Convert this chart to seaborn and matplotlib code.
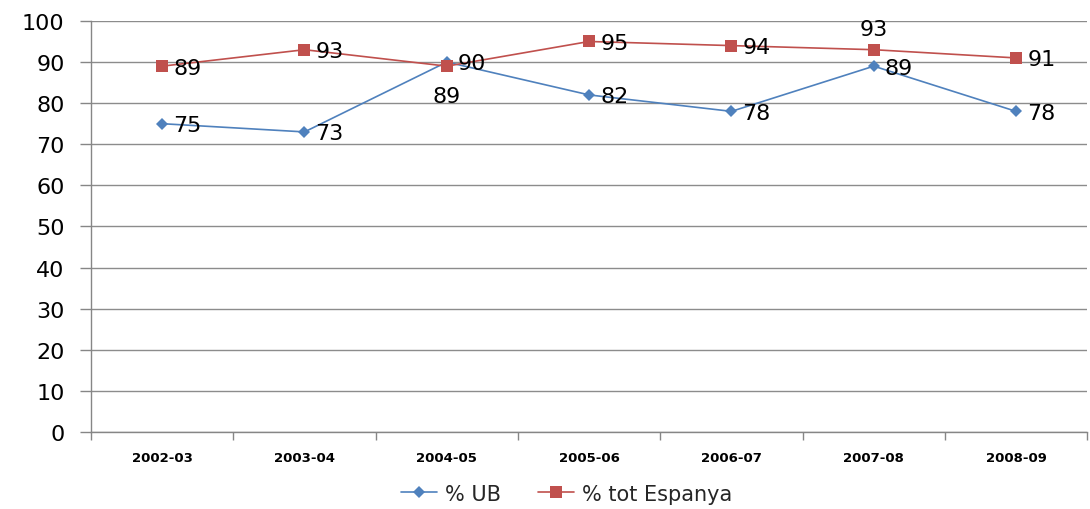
import numpy as np
import matplotlib
matplotlib.use("Agg")
import matplotlib.pyplot as plt
from matplotlib.lines import Line2D
import seaborn as sns
import pandas as pd

years = ['2002-03', '2003-04', '2004-05', '2005-06', '2006-07', '2007-08', '2008-09']
ub = [75, 73, 90, 82, 78, 89, 78]
espanya = [89, 93, 89, 95, 94, 93, 91]
series_names = ['% UB', '% tot Espanya']
# where each data label sits relative to its point
ub_label_pos = ['right'] * 7
esp_label_pos = ['right', 'right', 'below', 'right', 'right', 'above', 'right']

sns.set_style("white")
plt.rcParams['font.family'] = ['DejaVu Sans']

df = pd.DataFrame({
    'x': list(range(len(years))) * 2,
    'value': ub + espanya,
    'serie': [series_names[0]] * len(years) + [series_names[1]] * len(years),
})

fig = plt.figure(figsize=(10.9, 5.1), dpi=100)
ax = fig.add_axes([0.0835, 0.151, 0.914, 0.806])

blue = '#4F81BD'
red = '#C0504D'
sns.lineplot(data=df, x='x', y='value', hue='serie', style='serie',
             palette={series_names[0]: blue, series_names[1]: red},
             markers={series_names[0]: 'D', series_names[1]: 's'},
             dashes=False, linewidth=1.2, ax=ax, legend=False,
             markeredgewidth=0)
ax.lines[0].set_markersize(6.5)
ax.lines[1].set_markersize(9)

def put_labels(vals, pos):
    for i, (v, p) in enumerate(zip(vals, pos)):
        if p == 'right':
            off, ha, va = (8, -1), 'left', 'center'
        elif p == 'below':
            off, ha, va = (0, -14), 'center', 'top'
        else:
            off, ha, va = (0, 8), 'center', 'bottom'
        ax.annotate(str(v), (i, v), xytext=off, textcoords='offset points',
                    ha=ha, va=va, fontsize=16, color='black')

put_labels(ub, ub_label_pos)
put_labels(espanya, esp_label_pos)

ax.set_xlim(-0.5, len(years) - 0.5)
ax.set_ylim(0, 100)
ax.set_yticks(np.arange(0, 101, 10))
ax.tick_params(axis='y', labelsize=16, labelcolor='black', length=8, width=1,
               color='#868686', pad=11, direction='out', left=True)
ax.set_xticks(range(len(years)))
ax.set_xticklabels(years, fontsize=9.5, fontweight='bold')
ax.set_xticks(np.arange(-0.5, len(years), 1), minor=True)
ax.tick_params(axis='x', which='major', length=0, pad=14, labelcolor='black')
ax.tick_params(axis='x', which='minor', length=6, width=1, color='#868686', direction='out', bottom=True)
ax.grid(axis='y', color='#8c8c8c', linewidth=1)
ax.set_axisbelow(True)
for s in ['top', 'right']:
    ax.spines[s].set_visible(False)
for s in ['left', 'bottom']:
    ax.spines[s].set_color('#868686')
    ax.spines[s].set_linewidth(1)
ax.set_xlabel('')
ax.set_ylabel('')

handles = [Line2D([], [], color=blue, marker='D', markersize=6, markeredgewidth=0, lw=1.2),
           Line2D([], [], color=red, marker='s', markersize=8, markeredgewidth=0, lw=1.2)]
fig.legend(handles, series_names, loc='center', bbox_to_anchor=(0.52, 0.03), ncol=2,
           frameon=False, fontsize=15, handlelength=1.7, handletextpad=0.4, columnspacing=1.8)

fig.savefig('out.png', dpi=100)
